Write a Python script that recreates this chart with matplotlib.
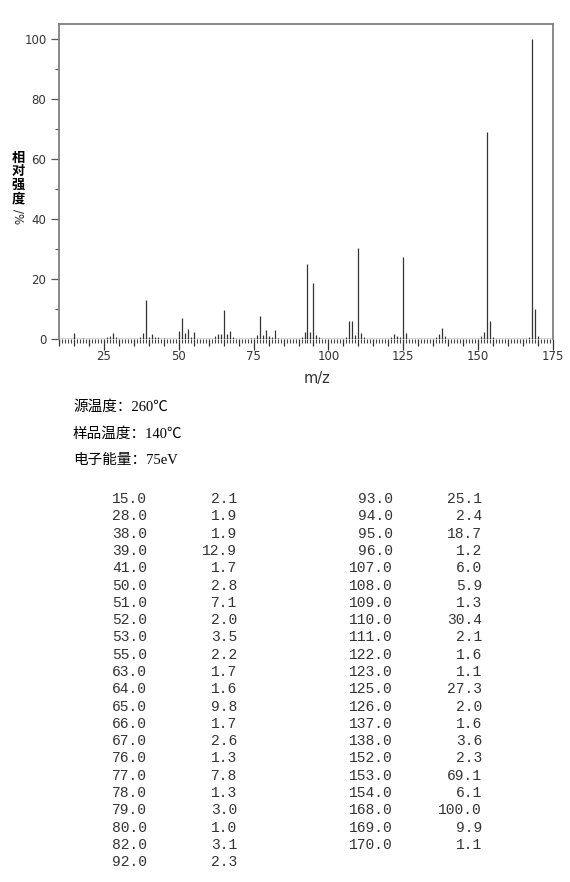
import matplotlib
matplotlib.use("Agg")
import matplotlib.pyplot as plt
from matplotlib.ticker import FixedLocator, MultipleLocator

# 表中列出的峰 (m/z, 相对强度)
mz = [15.0, 28.0, 38.0, 39.0, 41.0, 50.0, 51.0, 52.0, 53.0, 55.0, 63.0,
      64.0, 65.0, 66.0, 67.0, 76.0, 77.0, 78.0, 79.0, 80.0, 82.0, 92.0,
      93.0, 94.0, 95.0, 96.0, 107.0, 108.0, 109.0, 110.0, 111.0, 122.0,
      123.0, 125.0, 126.0, 137.0, 138.0, 152.0, 153.0, 154.0, 168.0,
      169.0, 170.0]
intensity = [2.1, 1.9, 1.9, 12.9, 1.7, 2.8, 7.1, 2.0, 3.5, 2.2, 1.7,
             1.6, 9.8, 1.7, 2.6, 1.3, 7.8, 1.3, 3.0, 1.0, 3.1, 2.3,
             25.1, 2.4, 18.7, 1.2, 6.0, 5.9, 1.3, 30.4, 2.1, 1.6,
             1.1, 27.3, 2.0, 1.6, 3.6, 2.3, 69.1, 6.1, 100.0,
             9.9, 1.1]

# 图上可见但未列出的小峰 (估计值)
noise_mz = [18, 26, 27, 29, 37, 40, 42, 43, 45, 54, 62, 68, 74, 75, 81,
            83, 91, 97, 106, 112, 121, 124, 136, 139, 151, 155, 167]
noise_int = [0.4, 0.7, 1.0, 0.8, 0.8, 0.6, 0.7, 0.8, 0.5, 0.7, 0.9, 0.6,
             0.5, 0.5, 0.8, 0.5, 0.8, 0.8, 0.8, 0.6, 0.8, 0.7, 0.7, 1.0,
             0.9, 0.7, 0.6]

params = ["源温度：260℃", "样品温度：140℃", "电子能量：75eV"]

fig = plt.figure(figsize=(5.70, 8.82), dpi=100)
ax = fig.add_axes([59 / 570, 1 - 339 / 882, (553 - 59) / 570, (339 - 24) / 882])

ax.vlines(noise_mz, 0, noise_int, color="#444444", lw=0.8)
ax.vlines(mz, 0, intensity, color="#333333", lw=0.9)
ax.axhline(0, color="#222222", lw=1.0)

ax.set_xlim(10, 175)
ax.set_ylim(0, 105)

for side in ["left", "top", "right"]:
    ax.spines[side].set_color("#808080")
    ax.spines[side].set_linewidth(1.3)
ax.spines["bottom"].set_visible(False)

# x 轴刻度: 每 1 小刻度, 每 5 中刻度, 每 25 长刻度带标签
ax.xaxis.set_major_locator(FixedLocator(list(range(10, 176, 5))))
ax.xaxis.set_minor_locator(MultipleLocator(1))
ax.set_xticklabels([str(v) if v % 25 == 0 else "" for v in range(10, 176, 5)])
ax.tick_params(axis="x", which="major", length=5, width=0.9, color="#333333",
               labelsize=8.5, labelcolor="#333333", pad=3)
ax.tick_params(axis="x", which="minor", length=3, width=0.8, color="#444444")
for v, t in zip(range(10, 176, 5), ax.xaxis.get_major_ticks()):
    if v % 25 == 0:
        t.tick1line.set_markersize(8)

ax.set_yticks([0, 20, 40, 60, 80, 100])
ax.yaxis.set_minor_locator(MultipleLocator(10))
ax.tick_params(axis="y", which="major", length=6, width=0.9, color="#555555",
               labelsize=8.5, labelcolor="#333333", pad=3)
ax.tick_params(axis="y", which="minor", length=3, width=0.8, color="#555555")

fig.text(317 / 570, 1 - 379 / 882, "m/z", ha="center", va="center",
         fontsize=10.5, color="#333333")

# 纵轴标题: 竖排汉字 + 旋转的 /%
cjk = ["Noto Sans CJK SC", "DejaVu Sans"]
fig.text(18 / 570, 1 - 178 / 882, "相\n对\n强\n度", ha="center", va="center",
         fontsize=9.5, family=cjk, fontweight="bold", linespacing=0.95)
fig.text(18 / 570, 1 - 217 / 882, "/%", ha="center", va="center",
         fontsize=8.5, rotation=270, color="#222222")

serif_cjk = ["Liberation Serif", "Noto Sans CJK SC"]
for i, line in enumerate(params):
    fig.text(73 / 570, 1 - (407 + 26.5 * i) / 882, line, ha="left", va="center",
             fontsize=10.5, family=serif_cjk)

# 数据表
n_left = 22
row_h = 17.3
for i, (m, v) in enumerate(zip(mz, intensity)):
    if i < n_left:
        xm, xv, row = 147, 237, i
    else:
        xm, xv, row = 393, 482, i - n_left
    y = 1 - (499 + row_h * row) / 882
    fig.text(xm / 570, y, f"{m:.1f}", ha="right", va="center",
             fontsize=10.5, family="Liberation Mono", color="#333333")
    fig.text(xv / 570, y, f"{v:.1f}", ha="right", va="center",
             fontsize=10.5, family="Liberation Mono", color="#333333")

fig.savefig("out.png", dpi=100)
